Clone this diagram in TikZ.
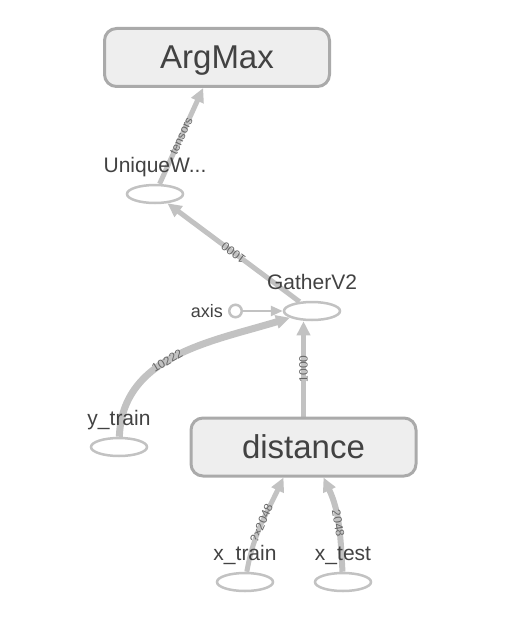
\documentclass[tikz,border=0pt]{standalone}
\usepackage{fontspec}
\setmainfont{Liberation Sans}
\usetikzlibrary{arrows.meta,shapes.geometric}
\pgfdeclarelayer{edges}
\pgfsetlayers{edges,main}
\definecolor{edgegray}{HTML}{C2C2C2}
\definecolor{boxgray}{HTML}{EEEEEE}
\definecolor{linegray}{HTML}{AAAAAA}
\definecolor{txtgray}{HTML}{424242}
\definecolor{dimgray}{HTML}{666666}
\tikzset{opbox/.style={draw=linegray,fill=boxgray,line width=3pt,rounded corners=12pt,minimum width=225pt,minimum height=58pt,inner sep=0pt,text height=23pt,text depth=0pt,text=txtgray,font=\fontsize{33}{36}\selectfont},
op/.style={ellipse,draw=edgegray,fill=white,line width=2.5pt,minimum width=56pt,minimum height=18pt,inner sep=0pt},
opname/.style={inner sep=0pt,text depth=5pt,yshift=6pt,text=txtgray,font=\fontsize{21}{24}\selectfont},
flow/.style={draw=edgegray,line width=#1,-{Triangle[length=14pt,width=13pt]}},flow/.default=5pt,
dim/.style={sloped,inner sep=1pt,text=dimgray,font=\fontsize{12}{14}\selectfont}}

\begin{document}
\begin{tikzpicture}[x=1pt,y=-1pt]
\useasboundingbox(0,0)rectangle(506,623);
\node[opbox](am)at(217,57.5){ArgMax};
\node[op,label={[opname]above:UniqueW...}](uw)at(155,194){};
\node[op,label={[opname]above:GatherV2}](gv)at(312,311){};
\node[circle,draw=edgegray,fill=white,line width=2.5pt,minimum size=12.5pt,inner sep=0pt,label={[opname,yshift=-6pt,xshift=-5pt,text depth=0pt,font=\fontsize{18}{20}\selectfont]left:axis}](ax)at(235.5,311){};
\node[op,label={[opname]above:y\_train}](yt)at(119,447){};
\node[opbox](dist)at(303.5,447){distance};
\node[op,label={[opname]above:x\_train}](xtr)at(245,582){};
\node[op,label={[opname]above:x\_test}](xte)at(343,582){};
\begin{pgfonlayer}{edges}
\draw[flow](uw)--node[dim]{tensors}(am);
\draw[flow](gv)--node[dim,allow upside down]{1000}(uw);
\draw[flow=2.5pt,-{Triangle[length=12pt,width=10pt]}](ax)--(gv);
\draw[flow=7pt](yt)to[out=88,in=197]node[dim,pos=.45]{10222}(gv);
\draw[flow](dist.north)--node[dim]{1000}(dist.north|-gv.south);
\draw[flow](xtr)to[out=80,in=245]node[dim]{?×2048}([xshift=-20pt]dist.south);
\draw[flow=6pt](xte)to[out=93,in=295]node[dim]{2048}([xshift=20pt]dist.south);
\end{pgfonlayer}
\end{tikzpicture}
\end{document}
